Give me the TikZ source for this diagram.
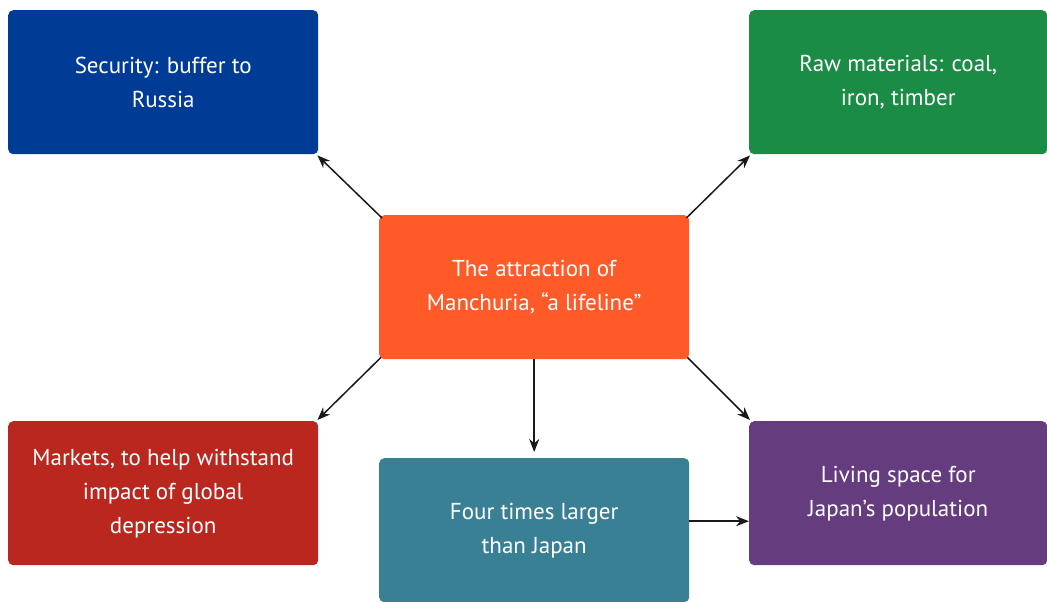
\documentclass[tikz,border=0pt]{standalone}
\usepackage{fontspec}
\setmainfont{PT Sans}
\usetikzlibrary{arrows.meta}
\definecolor{cblue}{HTML}{003C96}
\definecolor{cgreen}{HTML}{1A8C45}
\definecolor{corange}{HTML}{FF5A28}
\definecolor{cred}{HTML}{BA271F}
\definecolor{cteal}{HTML}{3A8094}
\definecolor{cpurple}{HTML}{653C7E}
\tikzset{
  box/.style={rounded corners=5pt, minimum width=310pt, minimum height=144pt, inner sep=0pt,
    text=white, align=center, font=\fontsize{23}{34}\selectfont, anchor=north west},
  conn/.style={-{Stealth[length=13pt,width=10pt]}, line width=1.5pt, draw=black!90}
}
\begin{document}
\begin{tikzpicture}[x=1pt,y=-1pt]
\useasboundingbox (0,0) rectangle (1047,602);
\node[box, fill=cblue] (sec) at (8,10) {Security: buffer to\\Russia};
\node[box, fill=cgreen, minimum width=298pt] (raw) at (749,10) {Raw materials: coal,\\iron, timber};
\node[box, fill=corange] (cen) at (379,215) {The attraction of\\Manchuria, ``a lifeline''};
\node[box, fill=cred] (mkt) at (8,421) {Markets, to help withstand\\impact of global\\depression};
\node[box, fill=cteal] (four) at (379,458) {Four times larger\\than Japan};
\node[box, fill=cpurple, minimum width=298pt] (liv) at (749,421) {Living space for\\Japan's population};
\coordinate (fe) at ([yshift=9pt]four.east);
\draw[conn] ([shift={(3pt,-3pt)}]cen.north west) -- ([shift={(-1pt,-1pt)}]sec.south east);
\draw[conn] ([shift={(-3pt,-3pt)}]cen.north east) -- ([shift={(1pt,-1pt)}]raw.south west);
\draw[conn] ([shift={(2pt,2pt)}]cen.south west) -- ([shift={(-1pt,1pt)}]mkt.north east);
\draw[conn] (cen.south) -- ([yshift=6pt]four.north);
\draw[conn] ([shift={(-2pt,2pt)}]cen.south east) -- ([shift={(1pt,1pt)}]liv.north west);
\draw[conn] (fe) -- (fe -| liv.west);
\end{tikzpicture}
\end{document}
